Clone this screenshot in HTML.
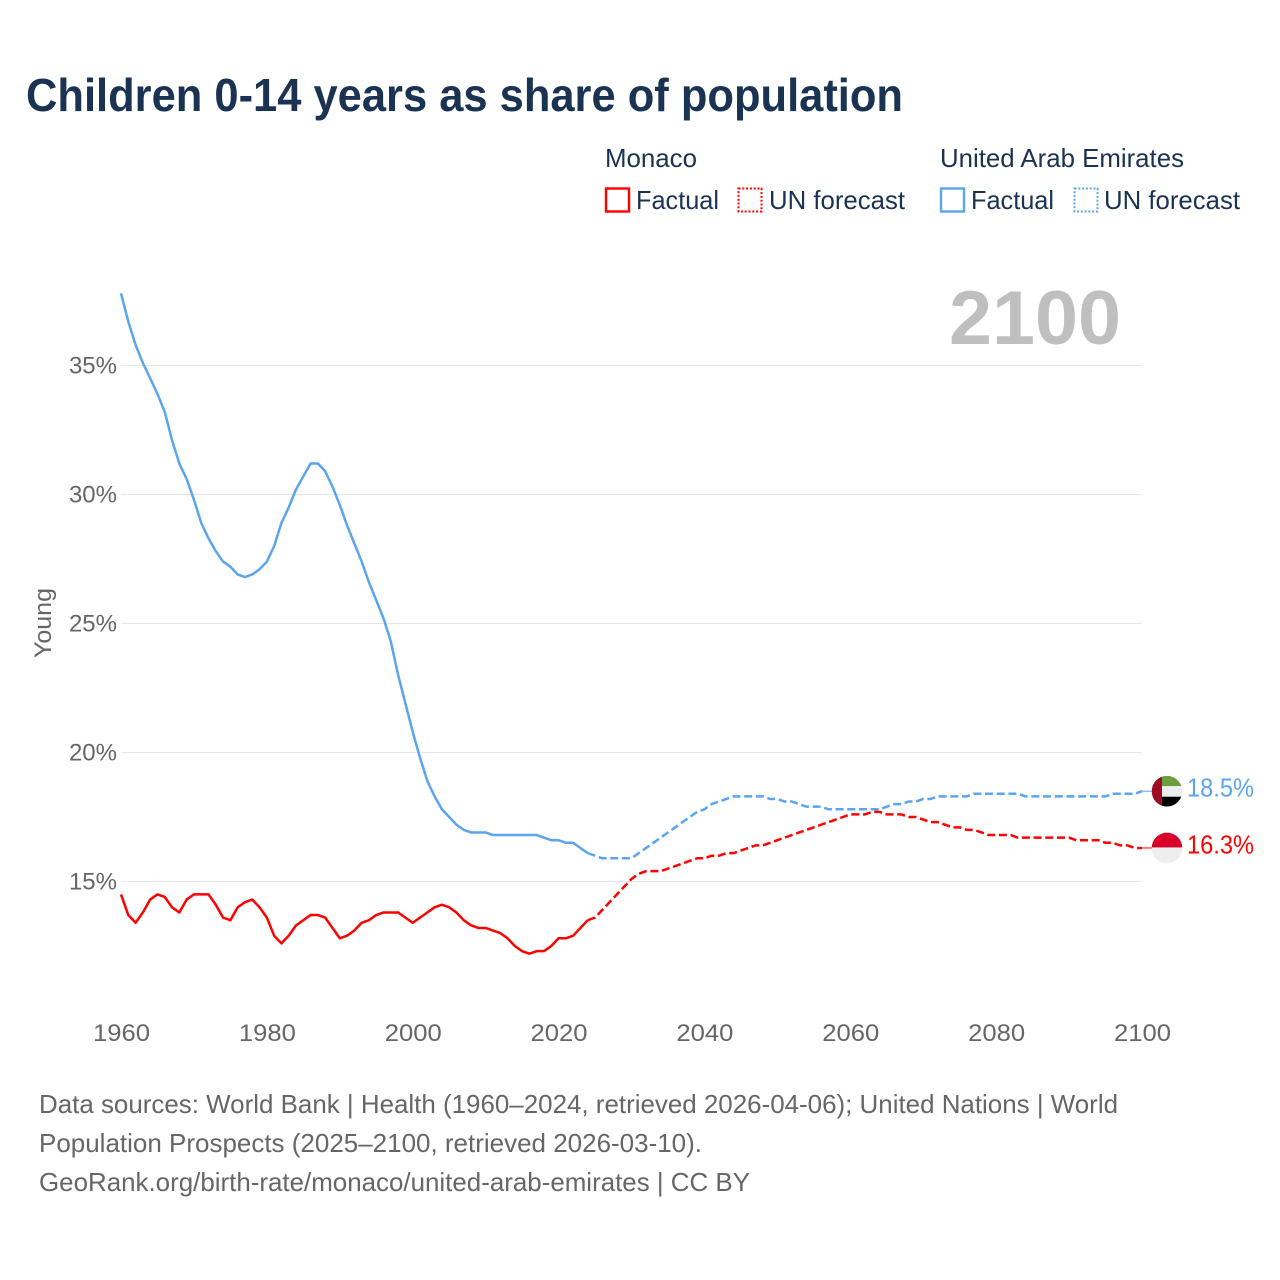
<!DOCTYPE html>
<html lang="en">
<head>
<meta charset="utf-8">
<title>Children 0-14 years as share of population</title>
<style>
  html, body { margin: 0; padding: 0; background: #fff; }
  svg { display: block; font-family: "Liberation Sans", "DejaVu Sans", sans-serif; }
</style>
</head>
<body>
<svg id="chart" xmlns="http://www.w3.org/2000/svg" width="1280" height="1280" viewBox="0 0 1280 1280">
  <rect x="0" y="0" width="1280" height="1280" fill="#ffffff"/>
  <text x="26" y="111" font-size="46" font-weight="700" fill="#1a3353" textLength="877" lengthAdjust="spacingAndGlyphs">Children 0-14 years as share of population</text>

  <g font-size="26" fill="#1a3353">
    <text x="605" y="167" textLength="92" lengthAdjust="spacingAndGlyphs">Monaco</text>
    <text x="940" y="167" textLength="244" lengthAdjust="spacingAndGlyphs">United Arab Emirates</text>
    <rect x="606" y="188.5" width="23" height="23" fill="none" stroke="#ff0000" stroke-width="2.4"/>
    <text x="636" y="209" textLength="83" lengthAdjust="spacingAndGlyphs">Factual</text>
    <rect x="738.5" y="188.5" width="23" height="23" fill="none" stroke="#ff0000" stroke-width="2" stroke-dasharray="2 1.8"/>
    <text x="769" y="209" textLength="136" lengthAdjust="spacingAndGlyphs">UN forecast</text>
    <rect x="941" y="188.5" width="23" height="23" fill="none" stroke="#5ba4ee" stroke-width="2.4"/>
    <text x="971" y="209" textLength="83" lengthAdjust="spacingAndGlyphs">Factual</text>
    <rect x="1074.5" y="188.5" width="23" height="23" fill="none" stroke="#5ba4ee" stroke-width="2" stroke-dasharray="2 1.8"/>
    <text x="1104" y="209" textLength="136" lengthAdjust="spacingAndGlyphs">UN forecast</text>
  </g>

  <text x="949" y="344" font-size="76" font-weight="700" fill="#bfbfbf" textLength="172" lengthAdjust="spacingAndGlyphs">2100</text>
  <text transform="translate(51 623) rotate(-90)" text-anchor="middle" font-size="24" fill="#666666" textLength="70" lengthAdjust="spacingAndGlyphs">Young</text>

  <g id="grid"></g>
  <g id="y-ticks"></g>
  <g id="x-ticks"></g>
  <g id="series"></g>
  <g id="end-markers"></g>

  <g font-size="26" fill="#666666">
    <text x="39" y="1113" textLength="1079" lengthAdjust="spacingAndGlyphs">Data sources: World Bank | Health (1960–2024, retrieved 2026-04-06); United Nations | World</text>
    <text x="39" y="1152" textLength="663" lengthAdjust="spacingAndGlyphs">Population Prospects (2025–2100, retrieved 2026-03-10).</text>
    <a><text x="39" y="1191" textLength="711" lengthAdjust="spacingAndGlyphs">GeoRank.org/birth-rate/monaco/united-arab-emirates | CC BY</text></a>
  </g>
</svg>
<script>
const startYear = 1960;
const xTickLabels = [1960, 1980, 2000, 2020, 2040, 2060, 2080, 2100];
const yTickLabels = [15, 20, 25, 30, 35];

const uaeFactual = [
  37.8,36.7,35.8,35.1,34.5,33.9,33.2,32.1,31.2,30.6,
  29.8,28.9,28.3,27.8,27.4,27.2,26.9,26.8,26.9,27.1,
  27.4,28.0,28.9,29.5,30.2,30.7,31.2,31.2,30.9,30.3,
  29.6,28.8,28.1,27.4,26.6,25.9,25.2,24.3,23.0,21.9,
  20.8,19.8,18.9,18.3,17.8,17.5,17.2,17.0,16.9,16.9,
  16.9,16.8,16.8,16.8,16.8,16.8,16.8,16.8,16.7,16.6,
  16.6,16.5,16.5,16.3,16.1
];
const uaeForecast = [
  16.0,15.9,15.9,15.9,15.9,
  15.9,16.1,16.3,16.5,16.7,16.9,17.1,17.3,17.5,17.7,
  17.8,18.0,18.1,18.2,18.3,18.3,18.3,18.3,18.3,18.2,
  18.2,18.1,18.1,18.0,17.9,17.9,17.9,17.8,17.8,17.8,
  17.8,17.8,17.8,17.8,17.8,17.9,18.0,18.0,18.1,18.1,
  18.2,18.2,18.3,18.3,18.3,18.3,18.3,18.4,18.4,18.4,
  18.4,18.4,18.4,18.4,18.3,18.3,18.3,18.3,18.3,18.3,
  18.3,18.3,18.3,18.3,18.3,18.3,18.4,18.4,18.4,18.4,
  18.5
];
const monacoFactual = [
  14.5,13.7,13.4,13.8,14.3,14.5,14.4,14.0,13.8,14.3,
  14.5,14.5,14.5,14.1,13.6,13.5,14.0,14.2,14.3,14.0,
  13.6,12.9,12.6,12.9,13.3,13.5,13.7,13.7,13.6,13.2,
  12.8,12.9,13.1,13.4,13.5,13.7,13.8,13.8,13.8,13.6,
  13.4,13.6,13.8,14.0,14.1,14.0,13.8,13.5,13.3,13.2,
  13.2,13.1,13.0,12.8,12.5,12.3,12.2,12.3,12.3,12.5,
  12.8,12.8,12.9,13.2,13.5
];
const monacoForecast = [
  13.6,13.9,14.2,14.5,14.8,
  15.1,15.3,15.4,15.4,15.4,15.5,15.6,15.7,15.8,15.9,
  15.9,16.0,16.0,16.1,16.1,16.2,16.3,16.4,16.4,16.5,
  16.6,16.7,16.8,16.9,17.0,17.1,17.2,17.3,17.4,17.5,
  17.6,17.6,17.6,17.7,17.7,17.6,17.6,17.6,17.5,17.5,
  17.4,17.3,17.3,17.2,17.1,17.1,17.0,17.0,16.9,16.8,
  16.8,16.8,16.8,16.7,16.7,16.7,16.7,16.7,16.7,16.7,
  16.7,16.6,16.6,16.6,16.6,16.5,16.5,16.4,16.4,16.3,
  16.3
];

const NS = 'http://www.w3.org/2000/svg';
function xScale(year) { return 121 + (year - 1960) * (1021 / 140); }
function yScale(value) { return 881.5 - (value - 15) * 25.8; }

function make(tag, parent, attrs) {
  const el = document.createElementNS(NS, tag);
  for (const k in attrs) el.setAttribute(k, attrs[k]);
  parent.appendChild(el);
  return el;
}

const grid = document.getElementById('grid');
const yTicks = document.getElementById('y-ticks');
yTickLabels.forEach(function (v) {
  const line = make('line', grid, { x1: 121, x2: 1141, y1: yScale(v), y2: yScale(v), stroke: '#e6e6e6', 'stroke-width': 1 });
  
  
  const label = make('text', yTicks, { x: 117, y: yScale(v) + 8, 'text-anchor': 'end', 'font-size': 24, fill: '#666666' });
  
  
  label.textContent = v + '%';
});

const xTicks = document.getElementById('x-ticks');
xTickLabels.forEach(function (yr) {
  const label = make('text', xTicks, { x: xScale(yr) + 0.5, y: 1041, 'text-anchor': 'middle', 'font-size': 24, fill: '#666666', textLength: 57, lengthAdjust: 'spacingAndGlyphs' });
  
  
  label.textContent = yr;
});

function pathFrom(values, firstYear) {
  return values.map(function (v, i) {
    return (i ? 'L' : 'M') + xScale(firstYear + i).toFixed(2) + ' ' + yScale(v).toFixed(2);
  }).join(' ');
}

const seriesGroup = document.getElementById('series');
function drawSeries(name, color, factual, forecast) {
  const solid = make('path', seriesGroup, { d: pathFrom(factual, startYear), fill: 'none', stroke: color, 'stroke-width': 2.5, 'stroke-linejoin': 'round' });
  
  
  const lastYear = startYear + factual.length - 1;
  const joined = [factual[factual.length - 1]].concat(forecast);
  const dashed = make('path', seriesGroup, { d: pathFrom(joined, lastYear), fill: 'none', stroke: color, 'stroke-width': 2.5, 'stroke-linejoin': 'round', 'stroke-dasharray': '8 3.7' });
  
  
}
drawSeries('uae', '#5ba4ee', uaeFactual, uaeForecast);
drawSeries('monaco', '#ff0000', monacoFactual, monacoForecast);

const markers = document.getElementById('end-markers');
function drawMarker(name, color, value) {
  const yy = yScale(value);
  const conn = make('line', markers, { x1: 1142, x2: 1152, y1: yy, y2: yy, stroke: color, 'stroke-width': 1 });
  
  
  const flag = make('g', markers, { transform: 'translate(1167 ' + yy.toFixed(2) + ')' });
  
  
  const label = make('text', markers, { x: 1187, y: yy + 5.5, 'font-size': 26, fill: color, textLength: 67, lengthAdjust: 'spacingAndGlyphs' });
  
  
  label.textContent = value.toFixed(1) + '%';
  return flag;
}
function clipCircle(id) {
  const clip = make('clipPath', markers, { id: id });
  make('circle', clip, { cx: 0, cy: 0, r: 15.3 });
}
clipCircle('flag-clip');

const uaeFlag = drawMarker('uae', '#5ba4ee', uaeForecast[uaeForecast.length - 1]);
const uaeInner = make('g', uaeFlag, { 'clip-path': 'url(#flag-clip)' });
make('rect', uaeInner, { x: -16, y: -16, width: 32, height: 11, fill: '#6a9e3f' });
make('rect', uaeInner, { x: -16, y: -5, width: 32, height: 10.5, fill: '#eeeeee' });
make('rect', uaeInner, { x: -16, y: 5.5, width: 32, height: 11, fill: '#000000' });
make('rect', uaeInner, { x: -16, y: -16, width: 11, height: 32, fill: '#9e0b24' });

const monacoFlag = drawMarker('monaco', '#ff0000', monacoForecast[monacoForecast.length - 1]);
const monacoInner = make('g', monacoFlag, { 'clip-path': 'url(#flag-clip)' });
make('rect', monacoInner, { x: -16, y: -16, width: 32, height: 15.5, fill: '#d7002a' });
make('rect', monacoInner, { x: -16, y: -0.5, width: 32, height: 16.5, fill: '#eeeeee' });
</script>
</body>
</html>
